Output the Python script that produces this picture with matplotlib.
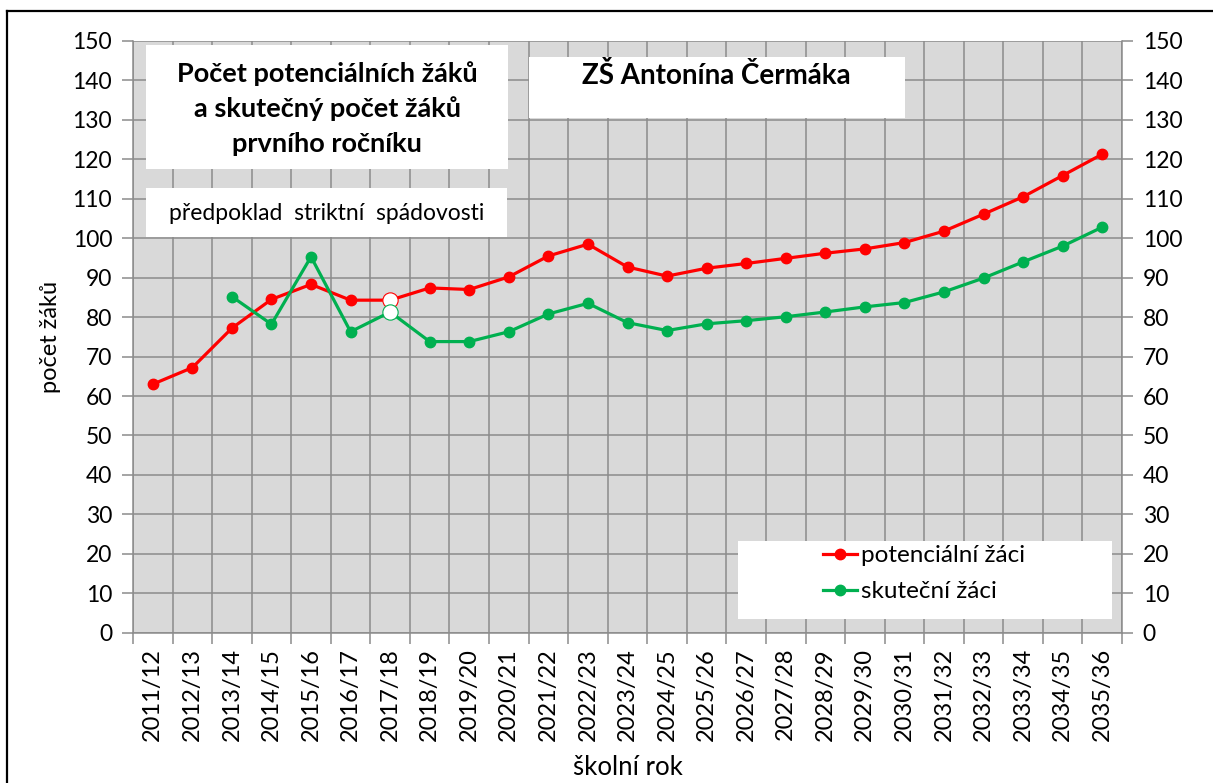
import matplotlib
matplotlib.use("Agg")
import matplotlib.pyplot as plt
import numpy as np
from matplotlib.patches import Rectangle

plt.rcParams['font.family'] = ['Lato', 'DejaVu Sans']

years = ["2011/12", "2012/13", "2013/14", "2014/15", "2015/16", "2016/17", "2017/18",
         "2018/19", "2019/20", "2020/21", "2021/22", "2022/23", "2023/24", "2024/25",
         "2025/26", "2026/27", "2027/28", "2028/29", "2029/30", "2030/31", "2031/32",
         "2032/33", "2033/34", "2034/35", "2035/36"]
potencialni = [63.0, 67.2, 77.2, 84.5, 88.3, 84.3, 84.3, 87.4, 87.0, 90.2, 95.5, 98.5,
               92.7, 90.4, 92.4, 93.6, 94.9, 96.2, 97.3, 98.9, 101.8, 106.1, 110.5, 115.9, 121.3]
skutecni = [np.nan, np.nan, 85.2, 78.2, 95.3, 76.3, 81.3, 73.8, 73.8, 76.3, 80.8, 83.5,
            78.6, 76.6, 78.3, 79.1, 80.1, 81.3, 82.6, 83.7, 86.4, 89.9, 94.0, 98.0, 102.8]
highlight_year = "2017/18"
yticks = list(range(0, 151, 10))

RED = "#ff0000"
GREEN = "#00b050"
GRID = "#8c8c8c"

W, H = 1213, 783
fig = plt.figure(figsize=(W / 100, H / 100), dpi=100)
L, R, B, T = 133, 1122, 632.7, 41
ax = fig.add_axes([L / W, 1 - B / H, (R - L) / W, (B - T) / H])
ax.set_facecolor("#d9d9d9")

x = np.arange(len(years))
ax.plot(x, potencialni, color=RED, lw=2.3, marker="o", ms=7.5, zorder=4,
        label="potenciální žáci")
ax.plot(x, skutecni, color=GREEN, lw=2.3, marker="o", ms=7.5, zorder=4,
        label="skuteční žáci")
hi = years.index(highlight_year)
ax.plot([x[hi]], [potencialni[hi]], marker="o", ms=11, mfc="white", mec=RED, mew=0.8,
        ls="none", zorder=5)
ax.plot([x[hi]], [skutecni[hi]], marker="o", ms=11, mfc="white", mec=GREEN, mew=0.8,
        ls="none", zorder=5)

ax.set_xlim(-0.5, len(years) - 0.5)
ax.set_ylim(0, 150)
ax.set_yticks(yticks)
ax.set_xticks(x)
ax.set_xticklabels(years, rotation=90, fontsize=17)
ax.set_xticks(np.arange(-0.5, len(years), 1.0), minor=True)
ax.tick_params(axis="x", which="major", length=0, pad=11)
ax.tick_params(axis="x", which="minor", length=8, width=1.1, color=GRID)
ax.tick_params(axis="y", which="major", left=True, right=True, labelleft=True,
               labelright=True, length=8, width=1.1, color=GRID, labelsize=16.5, pad=7)
ax.grid(True, axis="y", which="major", color=GRID, lw=1.1)
ax.grid(True, axis="x", which="minor", color=GRID, lw=1.1)
ax.set_axisbelow(True)
for s in ["left", "right", "bottom"]:
    ax.spines[s].set_color(GRID)
    ax.spines[s].set_linewidth(1.1)
ax.spines["top"].set_visible(False)

ax.set_ylabel("počet žáků", fontsize=17, labelpad=8.5)
ax.set_xlabel("školní rok", fontsize=18.5, labelpad=10)


def axpos(px, py):
    return ((px - L) / (R - L), (B - py) / (B - T))


def box(x0, y0, x1, y1):
    ax0, ay1 = axpos(x0, y0)
    ax1, ay0 = axpos(x1, y1)
    ax.add_patch(Rectangle((ax0, ay0), ax1 - ax0, ay1 - ay0, transform=ax.transAxes,
                           facecolor="white", edgecolor="none", zorder=6))


box(146, 45, 508, 169)
box(146, 188, 507, 237)
box(529, 57, 905, 118)
box(738, 541, 1112, 619)

for txt, py in [("Počet potenciálních žáků", 74), ("a skutečný počet žáků", 109),
                ("prvního ročníku", 144)]:
    ax.text(*axpos(327, py), txt, transform=ax.transAxes, ha="center", va="center",
            fontsize=19.5, fontweight="bold", zorder=7)
ax.text(*axpos(716, 75), "ZŠ Antonína Čermáka", transform=ax.transAxes, ha="center",
        va="center", fontsize=20, fontweight="bold", zorder=7)
ax.text(*axpos(327, 213), "předpoklad  striktní  spádovosti", transform=ax.transAxes,
        ha="center", va="center", fontsize=16.5, zorder=7)

leg = ax.legend(loc="upper left", bbox_to_anchor=axpos(823, 545), frameon=False,
                fontsize=17.5, handlelength=1.4, handletextpad=0.15, labelspacing=0.62,
                borderpad=0, borderaxespad=0)
leg.set_zorder(8)

# outer frame
fig.add_artist(plt.Line2D([7 / W, 7 / W], [0, 1 - 10.5 / H], transform=fig.transFigure,
                          color="black", lw=1.6))
fig.add_artist(plt.Line2D([7 / W, 1], [1 - 10.5 / H, 1 - 10.5 / H],
                          transform=fig.transFigure, color="black", lw=1.6))

fig.savefig("out.png", dpi=100)
